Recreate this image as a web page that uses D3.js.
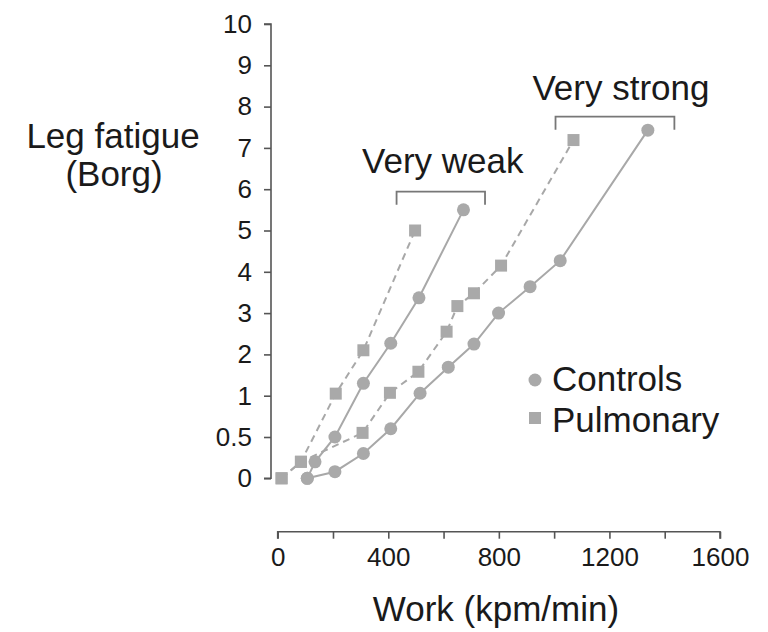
<!DOCTYPE html>
<html>
<head>
<meta charset="utf-8">
<script src="https://cdn.jsdelivr.net/npm/d3@7/dist/d3.min.js"></script>
<style>
  html, body { margin: 0; padding: 0; background: #fff; }
  svg { display: block; font-family: "Liberation Sans", Arial, sans-serif; }
</style>
</head>
<body>
<svg id="chart" width="768" height="632"></svg>
<script>
// ---- Data (work in kpm/min, leg fatigue in Borg units) ----
const yTickValues = [0, 0.5, 1, 2, 3, 4, 5, 6, 7, 8, 9, 10];
const xTickValues = [0, 200, 400, 600, 800, 1000, 1200, 1400, 1600];
const xTickLabels = [0, 400, 800, 1200, 1600];

const controlsWeakWork    = [107, 135, 207, 310, 409, 511, 672];
const controlsWeakBorg    = [0, 0.2, 0.5, 1.3, 2.27, 3.37, 5.5];
const pulmonaryWeakWork   = [14, 84, 210, 310, 497];
const pulmonaryWeakBorg   = [0, 0.2, 1.05, 2.1, 5.0];
const controlsStrongWork  = [107, 207, 310, 409, 515, 617, 710, 799, 913, 1022, 1339];
const controlsStrongBorg  = [0, 0.08, 0.3, 0.6, 1.06, 1.69, 2.25, 3.0, 3.64, 4.27, 7.43];
const pulmonaryStrongWork = [14, 84, 307, 406, 509, 611, 650, 710, 808, 1070];
const pulmonaryStrongBorg = [0, 0.2, 0.55, 1.07, 1.58, 2.55, 3.17, 3.48, 4.15, 7.19];

const seriesNames = ["Controls", "Pulmonary"];
const annotations = [
  { label: "Very weak",   from: 430, to: 750 },
  { label: "Very strong", from: 1005, to: 1435 }
];

// ---- Layout ----
const svg = d3.select("#chart");
const xAxisY = 531.7;
const yAxisX = 271;
const markColor = "#a9a9a9";
const lineColor = "#a8a8a8";
const axisColor = "#555";
const textColor = "#1a1a1a";

const x = d3.scaleLinear().domain([0, 1600]).range([277.7, 720]);
// Borg axis: 0, 0.5, 1 then integers, evenly spaced
const step = (478.3 - 24) / 11;
const y = d3.scaleLinear().domain([0, 1, 10]).range([478.3, 478.3 - 2 * step, 24]);

// ---- Y axis ----
const yAxis = d3.axisLeft(y).tickValues(yTickValues).tickSize(7).tickPadding(12)
  .tickFormat(d => String(d));
const gy = svg.append("g").attr("transform", `translate(${yAxisX},0)`).call(yAxis);
gy.select(".domain").attr("stroke", axisColor).attr("stroke-width", 1.6)
  .attr("d", `M-7,${y(10)}H0V${y(0)}H-7`);
gy.selectAll(".tick line").attr("stroke", axisColor).attr("stroke-width", 1.6);
gy.selectAll(".tick text").attr("fill", textColor).style("font-size", "26px");

// ---- X axis ----
const xAxis = d3.axisBottom(x).tickValues(xTickValues).tickSize(7).tickPadding(9)
  .tickFormat(d => xTickLabels.includes(d) ? String(d) : "");
const gx = svg.append("g").attr("transform", `translate(0,${xAxisY})`).call(xAxis);
gx.select(".domain").attr("stroke", axisColor).attr("stroke-width", 1.6)
  .attr("d", `M${x(0)},7V0H${x(1600)}V7`);
gx.selectAll(".tick line").attr("stroke", axisColor).attr("stroke-width", 1.6);
gx.selectAll(".tick text").attr("fill", textColor).style("font-size", "26px");

// ---- Axis titles ----
svg.append("text").attr("x", 113).attr("y", 148).attr("text-anchor", "middle")
  .attr("fill", textColor).style("font-size", "35px").text("Leg fatigue");
svg.append("text").attr("x", 114).attr("y", 186).attr("text-anchor", "middle")
  .attr("fill", textColor).style("font-size", "35px").text("(Borg)");
svg.append("text").attr("x", 496).attr("y", 621).attr("text-anchor", "middle")
  .attr("fill", textColor).style("font-size", "35px").text("Work (kpm/min)");

// ---- Series ----
const zip = (xs, ys) => xs.map((v, i) => [v, ys[i]]);
const series = [
  { name: "Controls",  pts: zip(controlsWeakWork, controlsWeakBorg),     dash: null },
  { name: "Controls",  pts: zip(controlsStrongWork, controlsStrongBorg), dash: null },
  { name: "Pulmonary", pts: zip(pulmonaryWeakWork, pulmonaryWeakBorg),   dash: "7,5" },
  { name: "Pulmonary", pts: zip(pulmonaryStrongWork, pulmonaryStrongBorg), dash: "7,5" }
];

const line = d3.line().x(d => x(d[0])).y(d => y(d[1]));

series.forEach(s => {
  svg.append("path").datum(s.pts).attr("d", line)
    .attr("fill", "none").attr("stroke", lineColor).attr("stroke-width", 2)
    .attr("stroke-dasharray", s.dash);
});

series.forEach(s => {
  if (s.name === "Controls") {
    svg.append("g").selectAll("circle").data(s.pts).join("circle")
      .attr("cx", d => x(d[0])).attr("cy", d => y(d[1])).attr("r", 6.5)
      .attr("fill", markColor);
  } else {
    svg.append("g").selectAll("rect").data(s.pts).join("rect")
      .attr("x", d => x(d[0]) - 6).attr("y", d => y(d[1]) - 6)
      .attr("width", 12).attr("height", 12).attr("fill", markColor);
  }
});

// ---- Brackets / annotations ----
const bracketY = [191.7, 116.7];
const textY = [173, 100];
annotations.forEach((a, i) => {
  const x0 = x(a.from), x1 = x(a.to), by = bracketY[i];
  svg.append("path")
    .attr("d", `M${x0},${by + 13}V${by}H${x1}V${by + 13}`)
    .attr("fill", "none").attr("stroke", "#777").attr("stroke-width", 1.8);
  svg.append("text").attr("x", (x0 + x1) / 2 + (i === 0 ? 2 : 6)).attr("y", textY[i])
    .attr("text-anchor", "middle").attr("fill", textColor)
    .style("font-size", "35px").text(a.label);
});

// ---- Legend ----
const legend = svg.append("g");
legend.append("circle").attr("cx", 535).attr("cy", 380).attr("r", 6.5).attr("fill", markColor);
legend.append("rect").attr("x", 529).attr("y", 412).attr("width", 12).attr("height", 12).attr("fill", markColor);
legend.selectAll("text").data(seriesNames).join("text")
  .attr("x", 552).attr("y", (d, i) => 391 + i * 41)
  .attr("fill", textColor).style("font-size", "35px").text(d => d);
</script>
</body>
</html>
